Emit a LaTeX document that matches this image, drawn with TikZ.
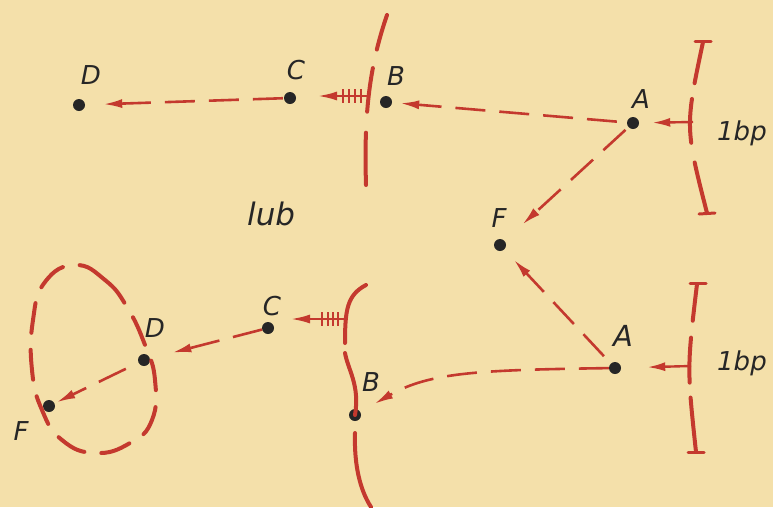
\documentclass[tikz,border=0pt]{standalone}
\usepackage{fontspec}
\newfontfamily\lab{DejaVu Sans}
\usetikzlibrary{arrows.meta}
\definecolor{paper}{HTML}{F4E0AA}
\definecolor{ink}{HTML}{C4392E}
\tikzset{
 dot/.style={circle,fill=black!85,inner sep=0pt,minimum size=12pt},
 lbl/.style={font=\lab\itshape\fontsize{26}{26}\selectfont, text=black!85, inner sep=0pt},
 flow/.style={draw=ink,line width=2.6pt,dash pattern=on 30pt off 14pt,-{Latex[length=19pt,width=9pt]}},
 hash/.style={draw=ink,line width=2.8pt,-{Latex[length=20pt,width=9pt]}},
 solidarrow/.style={draw=ink,line width=2.4pt,-{Latex[length=18pt,width=9pt]}},
 barline/.style={draw=ink,line width=4pt,line cap=round},
 tbar/.style={draw=ink,line width=3pt,line cap=round},
 hashtick/.style={draw=ink,line width=2.4pt},
}
\begin{document}
\begin{tikzpicture}[x=1pt,y=-1pt]
\fill[paper] (0,0) rectangle (773,507);
\useasboundingbox (0,0) rectangle (773,507);

% dots
\node[dot] (D1) at (79,105) {};
\node[dot] (C1) at (290,98) {};
\node[dot] (B1) at (386,102) {};
\node[dot] (A1) at (633,123) {};
\node[dot] (F1) at (500,245) {};
\node[dot] (A2) at (615,368) {};
\node[dot] (C2) at (268,328) {};
\node[dot] (D2) at (144,360) {};
\node[dot] (F2) at (49,406) {};
\node[dot] (B2) at (355,415) {};

% labels
\node[lbl] (lD1) at (91,75) {D};
\node[lbl] (lC1) at (296,70) {C};
\node[lbl] (lB1) at (396,76) {B};
\node[lbl] (lA1) at (641,99) {A};
\node[lbl] (lF1) at (499,218) {F};
\node[lbl,font=\lab\itshape\fontsize{29}{29}\selectfont] (lA2) at (623,336) {A};
\node[lbl] (lC2) at (272,306) {C};
\node[lbl] (lD2) at (155,328) {D};
\node[lbl] (lF2) at (21,431) {F};
\node[lbl] (lB2) at (371,382) {B};
\node[lbl,anchor=base west] (bp1) at (717,140) {1bp};
\node[lbl,anchor=base west] (bp2) at (717,370) {1bp};
\node[lbl,anchor=base west,font=\lab\itshape\fontsize{31}{31}\selectfont] (lub) at (247,225) {lub};

% dashed flows
\draw[flow,shorten <=10pt,shorten >=8pt] (A1) -- (B1);
\draw[flow,shorten <=1pt,shorten >=18pt] (C1) -- (D1);
\draw[flow,shorten <=4pt,shorten >=24pt] (A1) -- (F1);
\draw[flow,shorten <=10pt,shorten >=14pt] (A2) -- (F1);
\draw[flow,shorten <=0pt,shorten >=16pt] (A2) .. controls (480,370) and (430,372) .. (B2);
\draw[flow,shorten <=0pt,shorten >=23pt] (C2) -- (D2);
\draw[flow,shorten <=14pt,shorten >=2pt] (D2) -- (F2);

% hash arrows
\coordinate (hb1) at (367,96);
\draw[hash,shorten >=27pt] (hb1) -- (hb1 -| C1);
\foreach \x in {343,349,355,361} \draw[hashtick] (\x,89) -- (\x,103);
\coordinate (hb2) at (345,319);
\draw[hash,shorten >=22pt] (hb2) -- (hb2 -| C2);
\foreach \x in {322,328,333,338} \draw[hashtick] (\x,312) -- (\x,326);

% bar arrows
\coordinate (bt1) at (693,122);
\draw[solidarrow,shorten >=13pt] (bt1) -- (A1);
\coordinate (bt2) at (691,366);
\draw[solidarrow,shorten >=26pt] (bt2) -- (A2);

% right bars
\draw[barline,dash pattern=on 42pt off 16pt on 44pt off 20pt on 60pt] (703,42) .. controls (685,127) .. (707,213);
\draw[tbar] (695,41) -- (711,41);
\draw[tbar] (699,214) -- (715,213);
\draw[barline,dash pattern=on 37pt off 17pt on 45pt off 15pt on 60pt] (697,284) .. controls (687,368) .. (696,452);
\draw[tbar] (690,283) -- (706,283);
\draw[tbar] (688,452) -- (704,452);

% top B bar
\draw[barline,dash pattern=on 36pt off 19pt on 44pt off 21pt on 60pt] (387,15) .. controls (368,70) and (364,120) .. (366,185);

% bottom B bar
\draw[barline] (366,285) .. controls (347,295) and (345,310) .. (345,343);
\draw[barline] (345,353) .. controls (348,370) and (360,385) .. (B2.center);
\draw[barline] (355,433) .. controls (354,465) and (360,490) .. (371,507);

% closed dashed loop
\draw[ink,line width=4pt,line cap=round,dash pattern=on 30pt off 17pt]
  plot[smooth cycle,tension=0.8] coordinates {(75,265) (105,280) (127,307) (145,345) (155,380) (152,420) (130,443) (95,453) (62,440) (42,410) (32,370) (33,320) (45,282)};
\end{tikzpicture}
\end{document}
